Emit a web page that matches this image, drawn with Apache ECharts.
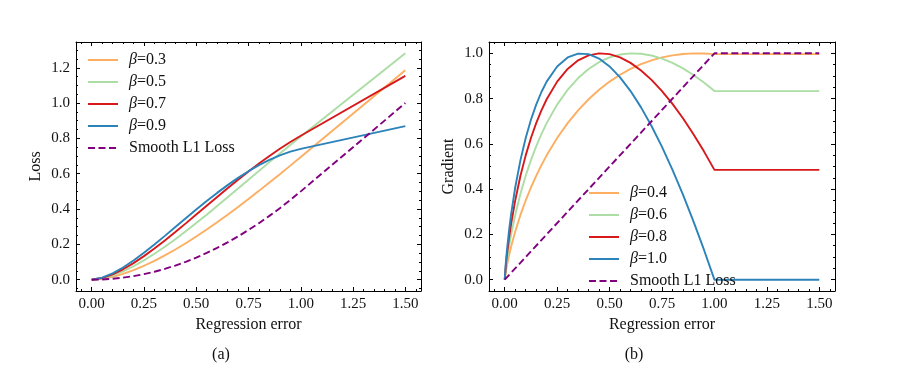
<!DOCTYPE html>
<html><head><meta charset="utf-8">
<script src="https://cdn.jsdelivr.net/npm/echarts@6/dist/echarts.min.js"></script>
<style>html,body{margin:0;padding:0;background:#fff}#c{width:898px;height:372px}</style>
</head><body><div id="c"></div>
<script>
// ---- Left panel (a): Loss ----
const lossX = [0,0.05,0.1,0.15,0.2,0.25,0.3,0.35,0.4,0.45,0.5,0.55,0.6,0.65,0.7,0.75,0.8,0.85,0.9,0.95,1.0,1.5];
const lossB03 = [0,0.0048,0.0163,0.0330,0.0540,0.0788,0.1067,0.1375,0.1709,0.2066,0.2444,0.2839,0.3251,0.3678,0.4117,0.4568,0.5029,0.5499,0.5976,0.6459,0.6948,1.1857];
const lossB05 = [0,0.0071,0.0238,0.0473,0.0762,0.1096,0.1466,0.1867,0.2294,0.2741,0.3205,0.3682,0.4169,0.4663,0.5161,0.5660,0.6160,0.6656,0.7148,0.7632,0.8108,1.2818];
const lossB07 = [0,0.0092,0.0301,0.0589,0.0939,0.1334,0.1764,0.2222,0.2699,0.3189,0.3686,0.4186,0.4684,0.5175,0.5656,0.6124,0.6575,0.7006,0.7413,0.7796,0.8150,1.1544];
const lossB09 = [0,0.0110,0.0356,0.0689,0.1084,0.1523,0.1992,0.2480,0.2978,0.3478,0.3971,0.4452,0.4915,0.5355,0.5766,0.6144,0.6486,0.6787,0.7042,0.7250,0.7405,0.8694];
const lossSmooth = [0,0.0013,0.005,0.0113,0.02,0.0313,0.045,0.0613,0.08,0.1013,0.125,0.1513,0.18,0.2113,0.245,0.2813,0.32,0.3613,0.405,0.4513,0.5,1.0];
const lossNames = ['β=0.3','β=0.5','β=0.7','β=0.9','Smooth L1 Loss'];

// ---- Right panel (b): Gradient ----
const gradX = [0,0.005,0.01,0.02,0.03,0.05,0.075,0.1,0.125,0.15,0.175,0.2,0.25,0.3,0.35,0.4,0.45,0.5,0.55,0.6,0.65,0.7,0.75,0.8,0.85,0.9,0.95,1.0,1.5];
const gradB04 = [0,0.0338,0.0600,0.1050,0.1443,0.2127,0.2860,0.3500,0.4072,0.4589,0.5060,0.5492,0.6259,0.6916,0.7482,0.7971,0.8390,0.8750,0.9055,0.9310,0.9521,0.9689,0.9818,0.9911,0.9970,0.9998,0.9995,0.9963,0.9963];
const gradB06 = [0,0.0474,0.0834,0.1443,0.1966,0.2860,0.3793,0.4589,0.5281,0.5891,0.6433,0.6916,0.7735,0.8390,0.8909,0.9310,0.9609,0.9818,0.9945,0.9998,0.9982,0.9904,0.9768,0.9577,0.9334,0.9045,0.8709,0.8331,0.8331];
const gradB08 = [0,0.0600,0.1050,0.1799,0.2433,0.3500,0.4589,0.5492,0.6259,0.6916,0.7482,0.7971,0.8750,0.9310,0.9689,0.9911,0.9998,0.9963,0.9820,0.9577,0.9243,0.8826,0.8331,0.7764,0.7129,0.6429,0.5669,0.4852,0.4852];
const gradB10 = [0,0.0720,0.1252,0.2127,0.2860,0.4072,0.5281,0.6259,0.7066,0.7735,0.8291,0.8750,0.9421,0.9818,0.9988,0.9963,0.9768,0.9420,0.8938,0.8331,0.7612,0.6787,0.5865,0.4852,0.3755,0.2579,0.1325,0,0];
const gradSmoothX = [0,1.0,1.5];
const gradSmooth = [0,1.0,1.0];
const gradNames = ['β=0.4','β=0.6','β=0.8','β=1.0','Smooth L1 Loss'];

// ---- ticks ----
const xTicks = [0,0.25,0.5,0.75,1.0,1.25,1.5];
const xMinor = [-0.05,0.05,0.1,0.15,0.2,0.3,0.35,0.4,0.45,0.55,0.6,0.65,0.7,0.8,0.85,0.9,0.95,1.05,1.1,1.15,1.2,1.3,1.35,1.4,1.45,1.55];
const yTicksL = [0,0.2,0.4,0.6,0.8,1.0,1.2];
const yMinorL = [-0.05,0.05,0.1,0.15,0.25,0.3,0.35,0.45,0.5,0.55,0.65,0.7,0.75,0.85,0.9,0.95,1.05,1.1,1.15,1.25,1.3];
const yTicksR = [0,0.2,0.4,0.6,0.8,1.0];
const yMinorR = [0.05,0.1,0.15,0.25,0.3,0.35,0.45,0.5,0.55,0.65,0.7,0.75,0.85,0.9,0.95];

const colors = ['#fdae61','#abdda4','#d7191c','#2b83ba','#800080'];
const FONT = 'Liberation Serif';
const TXT = '#111';

function zip(xs, ys){ return xs.map((x,i)=>[x, ys[i]]); }

function ax(grid, pos, min, max, ticks, len, showLine, extra){
  return Object.assign({
    type:'value', gridIndex:grid, position:pos, min:min, max:max,
    splitLine:{show:false},
    axisLine:{show:showLine, onZero:false, lineStyle:{color:'#000', width:1}},
    axisTick:{show:true, inside:true, length:len, customValues:ticks, lineStyle:{color:'#000', width:1}},
    axisLabel:{show:false},
    minorTick:{show:false}
  }, extra||{});
}
function labelCfg(ticks, dec){
  return {show:true, customValues:ticks, formatter:v=>Number(v).toFixed(dec), margin:6,
          color:TXT, fontFamily:FONT, fontSize:15};
}
const nameStyle = {fontFamily:FONT, fontSize:16, color:TXT};

const XMIN=-0.075, XMAX=1.575;
const YLMIN=-0.0641, YLMAX=1.3459;
const YRMIN=-0.05, YRMAX=1.05;

const xAxes = [];
const yAxes = [];
[0,1].forEach(g=>{
  xAxes.push(ax(g,'bottom',XMIN,XMAX,xTicks,4,true,{axisLabel:labelCfg(xTicks,2),
    name:'Regression error', nameLocation:'middle', nameGap:24, nameTextStyle:nameStyle}));
  xAxes.push(ax(g,'bottom',XMIN,XMAX,xMinor,2,false));
  xAxes.push(ax(g,'top',XMIN,XMAX,xTicks,4,true));
  xAxes.push(ax(g,'top',XMIN,XMAX,xMinor,2,false));
});
yAxes.push(ax(0,'left',YLMIN,YLMAX,yTicksL,4,true,{axisLabel:labelCfg(yTicksL,1),
  name:'Loss', nameLocation:'middle', nameGap:32, nameRotate:90, nameTextStyle:nameStyle}));
yAxes.push(ax(0,'left',YLMIN,YLMAX,yMinorL,2,false));
yAxes.push(ax(0,'right',YLMIN,YLMAX,yTicksL,4,true));
yAxes.push(ax(0,'right',YLMIN,YLMAX,yMinorL,2,false));
yAxes.push(ax(1,'left',YRMIN,YRMAX,yTicksR,4,true,{axisLabel:labelCfg(yTicksR,1),
  name:'Gradient', nameLocation:'middle', nameGap:32, nameRotate:90, nameTextStyle:nameStyle}));
yAxes.push(ax(1,'left',YRMIN,YRMAX,yMinorR,2,false));
yAxes.push(ax(1,'right',YRMIN,YRMAX,yTicksR,4,true));
yAxes.push(ax(1,'right',YRMIN,YRMAX,yMinorR,2,false));

function line(name, data, color, xi, yi, dashed){
  return {type:'line', name:name, data:data, xAxisIndex:xi, yAxisIndex:yi,
    showSymbol:false, symbol:'none', smooth:false, animation:false, silent:true,
    lineStyle:{color:color, width:1.9, type:dashed?[7,3.5]:'solid'},
    itemStyle:{color:color}};
}
const series = [
  line(lossNames[0], zip(lossX,lossB03), colors[0], 0,0),
  line(lossNames[1], zip(lossX,lossB05), colors[1], 0,0),
  line(lossNames[2], zip(lossX,lossB07), colors[2], 0,0),
  line(lossNames[3], zip(lossX,lossB09), colors[3], 0,0),
  line(lossNames[4], zip(lossX,lossSmooth), colors[4], 0,0,true),
  line(gradNames[0], zip(gradX,gradB04), colors[0], 4,4),
  line(gradNames[1], zip(gradX,gradB06), colors[1], 4,4),
  line(gradNames[2], zip(gradX,gradB08), colors[2], 4,4),
  line(gradNames[3], zip(gradX,gradB10), colors[3], 4,4),
  line(gradNames[4], zip(gradSmoothX,gradSmooth), colors[4], 4,4,true)
];

function legendCfg(names, left, top){
  return {data:names, left:left, top:top, orient:'vertical', padding:0,
    itemWidth:30, itemHeight:14, itemGap:6, selectedMode:false,
    itemStyle:{color:'transparent', borderColor:'transparent', borderWidth:0, opacity:0},
    formatter: n => n.charAt(0)==='β' ? '{i|β}{n|'+n.slice(1)+'}' : '{n|'+n+'}',
    textStyle:{color:TXT, fontFamily:FONT, fontSize:16, padding:[0,0,0,6],
      rich:{i:{fontStyle:'italic', fontFamily:FONT, fontSize:16, color:TXT},
            n:{fontFamily:FONT, fontSize:16, color:TXT}}}};
}

const chart = echarts.init(document.getElementById('c'), null, {renderer:'canvas'});
chart.setOption({
  backgroundColor:'#fff',
  animation:false,
  grid:[
    {left:76, top:42, right:477, bottom:81, containLabel:false},
    {left:489, top:42, right:63, bottom:81, containLabel:false}
  ],
  xAxis:xAxes,
  yAxis:yAxes,
  legend:[legendCfg(lossNames, 87, 52), legendCfg(gradNames, 588, 185)],
  series:series,
  graphic:[
    {type:'text', x:221, y:355, style:{text:'(a)', font:'16px "Liberation Serif"', fill:TXT, align:'center', verticalAlign:'middle', textAlign:'center', textVerticalAlign:'middle'}},
    {type:'text', x:634, y:355, style:{text:'(b)', font:'16px "Liberation Serif"', fill:TXT, align:'center', verticalAlign:'middle', textAlign:'center', textVerticalAlign:'middle'}}
  ]
});
</script>
</body></html>
